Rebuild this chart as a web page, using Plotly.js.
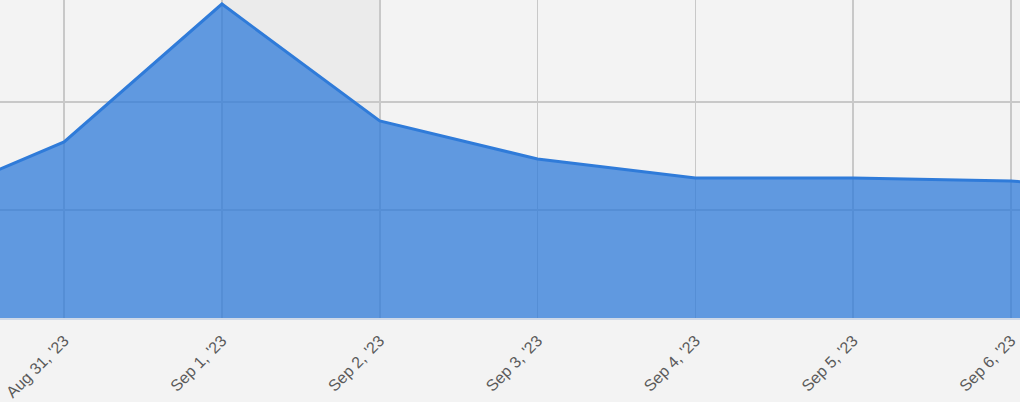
<!DOCTYPE html>
<html>
<head>
<meta charset="utf-8">
<script src="https://cdn.plot.ly/plotly-3.0.1.min.js"></script>
<style>html,body{margin:0;padding:0;background:#f3f3f3;}#chart{width:1020px;height:402px;}</style>
</head>
<body>
<div id="chart"></div>
<script>
var dates = ["2023-08-30", "2023-08-31", "2023-09-01", "2023-09-02", "2023-09-03", "2023-09-04", "2023-09-05", "2023-09-06", "2023-09-07"];
var values = [10.1, 16.3, 29.07, 18.24, 14.72, 12.96, 12.96, 12.69, 11.5];
var highlightStart = "2023-09-01";
var highlightEnd = "2023-09-02";

var trace = {
  x: dates,
  y: values,
  type: "scatter",
  mode: "lines",
  fill: "tozeroy",
  fillcolor: "rgba(47,123,217,0.75)",
  line: {color: "#2f7bd9", width: 3},
  hoverinfo: "x+y"
};

var layout = {
  width: 1020,
  height: 402,
  margin: {l: 0, r: 0, t: 0, b: 84, pad: 0},
  paper_bgcolor: "#f3f3f3",
  plot_bgcolor: "#f3f3f3",
  showlegend: false,
  xaxis: {
    type: "date",
    range: ["2023-08-30 14:15", "2023-09-06 01:22"],
    tickvals: ["2023-08-31", "2023-09-01", "2023-09-02", "2023-09-03", "2023-09-04", "2023-09-05", "2023-09-06"],
    tickformat: "%b %-d, '%y",
    tickangle: -45,
    ticklabelstandoff: 5,
    tickfont: {family: "Arial, Liberation Sans, sans-serif", size: 16, color: "#5a5a5a"},
    showgrid: true,
    gridcolor: "#c8c8c8",
    gridwidth: 1.5,
    showline: true,
    linecolor: "#cfd9e8",
    linewidth: 2,
    zeroline: false,
    ticks: ""
  },
  yaxis: {
    range: [0, 29.44],
    dtick: 10,
    showticklabels: false,
    showgrid: true,
    gridcolor: "#c8c8c8",
    gridwidth: 1.5,
    zeroline: false,
    showline: false,
    ticks: ""
  },
  shapes: [{
    type: "rect",
    xref: "x",
    yref: "paper",
    x0: highlightStart,
    x1: highlightEnd,
    y0: 0,
    y1: 1,
    fillcolor: "#ebebeb",
    line: {width: 0},
    layer: "below"
  }]
};

Plotly.newPlot("chart", [trace], layout, {displayModeBar: false, staticPlot: true});
</script>
</body>
</html>
